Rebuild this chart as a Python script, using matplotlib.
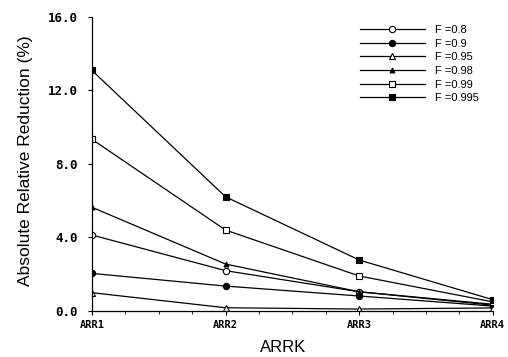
import matplotlib

matplotlib.use("Agg")
import matplotlib.pyplot as plt
from matplotlib.ticker import MultipleLocator

categories = ["ARR1", "ARR2", "ARR3", "ARR4"]
labels = ["F =0.8", "F =0.9", "F =0.95", "F =0.98", "F =0.99", "F =0.995"]
f080 = [4.12, 2.18, 1.03, 0.30]
f090 = [2.03, 1.34, 0.80, 0.25]
f095 = [0.98, 0.16, 0.09, 0.15]
f098 = [5.63, 2.54, 1.03, 0.35]
f099 = [9.33, 4.39, 1.89, 0.48]
f0995 = [13.08, 6.20, 2.76, 0.60]
yticks = [0.0, 4.0, 8.0, 12.0, 16.0]

series = [f080, f090, f095, f098, f099, f0995]
markers = [
    dict(marker="o", mfc="white", ms=4.5),
    dict(marker="o", mfc="black", ms=4.5),
    dict(marker="^", mfc="white", ms=4),
    dict(marker="^", mfc="black", ms=3.5),
    dict(marker="s", mfc="white", ms=4),
    dict(marker="s", mfc="black", ms=4.5),
]

fig = plt.figure(figsize=(5.08, 3.57), dpi=100)
ax = fig.add_axes([0.181, 0.1297, 0.789, 0.8233])

x = list(range(len(categories)))
for vals, lab, mk in zip(series, labels, markers):
    ax.plot(x, vals, color="black", lw=0.9, mec="black", mew=0.8, label=lab, **mk)

ax.set_xlim(0, 3)
ax.set_ylim(0, 16)
ax.set_xticks(x)
ax.set_xticklabels(categories, family="DejaVu Sans Mono", fontweight="bold", fontsize=7.5)
ax.set_yticks(yticks)
ax.set_yticklabels([f"{v:.1f}" for v in yticks], family="DejaVu Sans Mono",
                   fontweight="bold", fontsize=9)
ax.xaxis.set_minor_locator(MultipleLocator(0.25))
ax.tick_params(axis="y", which="major", direction="out", length=3, width=0.8, pad=7)
ax.tick_params(axis="x", which="major", direction="out", length=3, width=0.8, pad=4)
ax.tick_params(axis="x", which="minor", direction="out", length=2, width=0.6)
for side in ("top", "right"):
    ax.spines[side].set_visible(False)
for side in ("left", "bottom"):
    ax.spines[side].set_linewidth(0.9)

ax.set_ylabel("Absolute Relative Reduction (%)", family="Liberation Sans", fontsize=12.5)
ax.yaxis.set_label_coords(-0.147, 0.51)
ax.set_xlabel("ARRK", family="Liberation Sans", fontsize=12)
ax.xaxis.set_label_coords(0.478, -0.10)

ax.legend(loc="upper left", bbox_to_anchor=(0.708, 0.93), bbox_transform=fig.transFigure,
          frameon=False, handlelength=5.9, handletextpad=0.9,
          labelspacing=0.33, borderpad=0, borderaxespad=0,
          prop={"family": "Liberation Sans", "size": 8})

fig.savefig("out.png", dpi=100)
